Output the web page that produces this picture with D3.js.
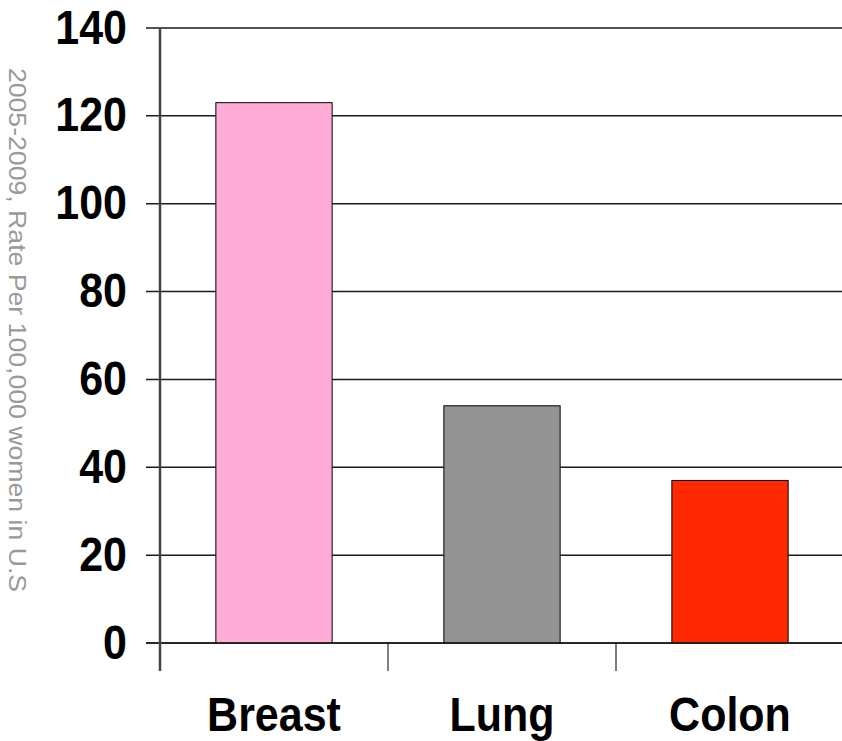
<!DOCTYPE html>
<html>
<head>
<meta charset="utf-8">
<script src="https://cdn.jsdelivr.net/npm/d3@7"></script>
<style>
  body { margin: 0; background: #fff; }
  text { font-family: Arial, "Liberation Sans", sans-serif; }
</style>
</head>
<body>
<div id="barchart"></div>
<script>
var categories = ['Breast', 'Lung', 'Colon']
var values = [123, 54, 37]
var barColors = ['#ffacd6', '#939393', '#ff2800']
var yTicks = [0, 20, 40, 60, 80, 100, 120, 140]
var yTitle = '2005-2009, Rate Per 100,000 women in U.S'

// set the dimensions and margins of the graph
// (plot runs a couple of pixels past the right edge, like the original)
var margin = {top: 28, right: -2, bottom: 98, left: 160},
    width = 842 - margin.left - margin.right,
    height = 741 - margin.top - margin.bottom;

var svg = d3.select("#barchart")
    .append("svg")
    .attr("width", 842)
    .attr("height", 741)
    .append("g")
    .attr("transform", "translate(" + margin.left + "," + margin.top + ")");

// scales
var x = d3.scaleBand()
    .domain(categories)
    .range([0, width])
    .paddingInner(0.49)
    .paddingOuter(0.245);

var y = d3.scaleLinear()
    .domain([0, 140])
    .range([height, 0]);

// gridlines (they run through the left tick marks)
svg.append("g")
    .selectAll("line")
    .data(yTicks)
    .enter()
    .append("line")
    .attr("x1", -14)
    .attr("x2", width)
    .attr("y1", function(d) { return y(d) })
    .attr("y2", function(d) { return y(d) })
    .attr("stroke", "#1a1a1a")
    .attr("stroke-width", 1.5);

// y tick labels, bold and a little tall
svg.append("g")
    .selectAll("text")
    .data(yTicks)
    .enter()
    .append("text")
    .attr("text-anchor", "end")
    .attr("transform", function(d) { return "translate(-33," + (y(d) + 15.5) + ") scale(1,1.12)" })
    .style("font-size", "43px")
    .style("font-weight", "bold")
    .text(function(d) { return d });

// bars
svg.selectAll("rect.bar")
    .data(values)
    .enter()
    .append("rect")
    .attr("class", "bar")
    .attr("x", function(d, i) { return x(categories[i]) })
    .attr("width", x.bandwidth())
    .attr("y", function(d) { return y(d) })
    .attr("height", function(d) { return height - y(d) })
    .attr("fill", function(d, i) { return barColors[i] })
    .attr("stroke", "#000")
    .attr("stroke-width", 1);

// x axis line and ticks between categories
svg.append("line")
    .attr("x1", -14).attr("x2", width)
    .attr("y1", height).attr("y2", height)
    .attr("stroke", "#1a1a1a")
    .attr("stroke-width", 1.5);

var step = width / categories.length
svg.append("g")
    .selectAll("line")
    .data(d3.range(1, categories.length))
    .enter()
    .append("line")
    .attr("x1", function(d) { return d * step })
    .attr("x2", function(d) { return d * step })
    .attr("y1", height)
    .attr("y2", height + 28)
    .attr("stroke", "#000")
    .attr("stroke-width", 1);

// y axis line
svg.append("line")
    .attr("x1", 0).attr("x2", 0)
    .attr("y1", 0).attr("y2", height + 28)
    .attr("stroke", "#444")
    .attr("stroke-width", 2.5);

// category labels
svg.append("g")
    .selectAll("text")
    .data(categories)
    .enter()
    .append("text")
    .attr("text-anchor", "middle")
    .attr("transform", function(d) { return "translate(" + (x(d) + x.bandwidth() / 2) + "," + (height + 88) + ") scale(1,1.12)" })
    .style("font-size", "43px")
    .style("font-weight", "bold")
    .text(function(d) { return d });

// y axis title, reads top to bottom
svg.append("text")
    .attr("text-anchor", "middle")
    .attr("transform", "translate(" + (-151) + "," + (330 - margin.top) + ") scale(1,1.12) rotate(90)")
    .style("font-size", "23.8px")
    .style("fill", "#999")
    .text(yTitle);
</script>
</body>
</html>
